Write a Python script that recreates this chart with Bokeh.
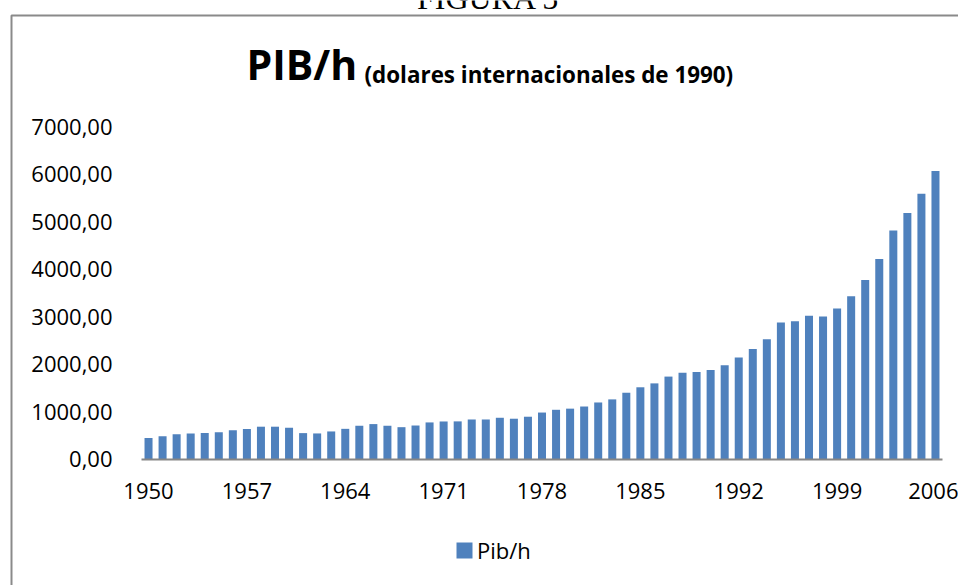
from bokeh.plotting import figure
from bokeh.models import Range1d, FixedTicker, Label, Legend, LegendItem
from bokeh.embed import file_html
from bokeh.resources import INLINE

# ---------------- data ----------------
years = list(range(1950, 2007))
pib_h = [440, 479, 522, 537, 545, 565, 606, 630, 680, 680,
         658, 545, 538, 580, 635, 700, 735, 700, 670, 705,
         770, 790, 792, 832, 832, 868, 848, 890, 978, 1036,
         1060, 1105, 1190, 1255, 1395, 1510, 1592, 1735, 1818, 1834,
         1876, 1975, 2135, 2318, 2522, 2872, 2900, 3016, 2998, 3168,
         3428, 3770, 4208, 4812, 5180, 5585, 6065]
x_ticks = [1950, 1957, 1964, 1971, 1978, 1985, 1992, 1999, 2006]
x_tick_labels = ["1950", "1957", "1964", "1971", "1978", "1985", "1992", "1999", "2006"]
y_ticks = [0, 1000, 2000, 3000, 4000, 5000, 6000, 7000]
y_tick_labels = ["0,00", "1000,00", "2000,00", "3000,00", "4000,00",
                 "5000,00", "6000,00", "7000,00"]
series_name = "Pib/h"
title_main = "PIB/h"
title_sub = "(dolares internacionales de 1990)"
caption = "FIGURA 5"

# ---------------- layout (canvas pixels) ----------------
W, H = 958, 585
PL, PR, PT, PB = 141, 942, 126, 458.5    # plot area of the chart
XA, XB = 1949.5, 2006.5                  # category extent
YA, YB = 0, 7000                         # value axis extent
kx = (XB - XA) / (PR - PL)
ky = (YB - YA) / (PB - PT)


def dx(cx):
    return XA + (cx - PL) * kx


def dy(cy):
    return YA + (PB - cy) * ky


FONT = "Open Sans"
BAR = "#4F81BD"

p = figure(width=W, height=H, output_backend="svg", toolbar_location=None,
           x_range=Range1d(dx(0), dx(W)), y_range=Range1d(dy(H), dy(0)),
           min_border=0)
p.background_fill_color = "white"
p.border_fill_color = "white"
p.outline_line_color = None
p.xgrid.visible = False
p.ygrid.visible = False

# chart border (outer frame, open to the right and bottom)
p.line(x=[dx(11), dx(11), dx(W)], y=[dy(H), dy(15), dy(15)],
       line_color="#8a8a8a", line_width=2)

r = p.vbar(x=years, top=pib_h, width=0.57, fill_color=BAR, line_color=None)

# x axis
xa = p.xaxis[0]
xa.fixed_location = YA
xa.bounds = (XA, XB)
xa.ticker = FixedTicker(ticks=x_ticks)
xa.major_label_overrides = {t: l for t, l in zip(x_ticks, x_tick_labels)}
xa.axis_line_color = "#868686"
xa.axis_line_width = 2
xa.major_tick_line_color = None
xa.minor_tick_line_color = None
xa.major_tick_out = 0
xa.major_tick_in = 0
xa.major_label_text_font = FONT
xa.major_label_text_font_size = "22px"
xa.major_label_text_color = "black"
xa.major_label_standoff = 24

# y axis
ya = p.yaxis[0]
ya.fixed_location = XA
ya.bounds = (YA, YB)
ya.ticker = FixedTicker(ticks=y_ticks)
ya.major_label_overrides = {t: l for t, l in zip(y_ticks, y_tick_labels)}
ya.axis_line_color = None
ya.major_tick_line_color = None
ya.minor_tick_line_color = None
ya.major_tick_out = 0
ya.major_tick_in = 0
ya.major_label_text_font = FONT
ya.major_label_text_font_size = "22px"
ya.major_label_text_color = "black"
ya.major_label_standoff = 29

# caption above the chart (cut off at the top, as in the source)
p.add_layout(Label(x=dx(488), y=dy(-2.5), text=caption, text_font="Liberation Serif",
                   text_font_size="32px", text_color="black", text_align="center",
                   text_baseline="alphabetic"))

# title
p.add_layout(Label(x=dx(246), y=dy(63), text=title_main, text_font=FONT,
                   text_font_style="bold", text_font_size="41px", text_color="black",
                   text_align="left", text_baseline="alphabetic"))
p.add_layout(Label(x=dx(364), y=dy(74), text=title_sub, text_font=FONT,
                   text_font_style="bold", text_font_size="22.4px", text_color="black",
                   text_align="left", text_baseline="alphabetic"))

# legend
legend = Legend(items=[LegendItem(label=series_name, renderers=[r])],
                location=(454, H - 565), orientation="horizontal",
                glyph_width=20, glyph_height=20, label_standoff=3,
                label_text_font=FONT, label_text_font_size="22px",
                label_text_color="black", padding=0, margin=0, spacing=0,
                border_line_color=None, background_fill_alpha=0)
p.add_layout(legend, "center")

open("out.html", "w").write(file_html(p, INLINE))
